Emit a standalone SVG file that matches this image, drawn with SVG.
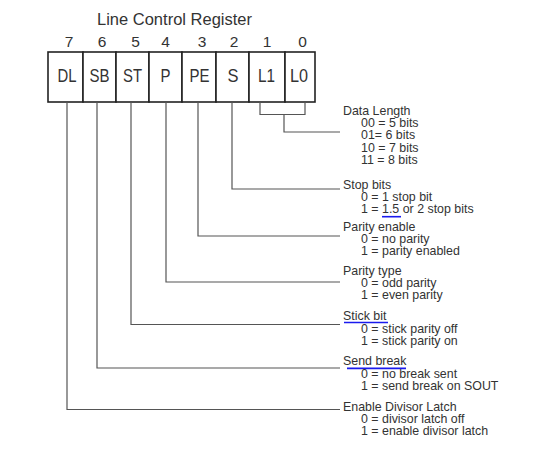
<svg xmlns="http://www.w3.org/2000/svg" width="548" height="465" viewBox="0 0 548 465">
<style>
.t{font-family:"Liberation Sans",Arial,sans-serif;fill:#333}
.title{font-size:16.5px}
.num{font-size:15.5px;text-anchor:middle}
.lbl{font-size:17.5px;text-anchor:middle}
.d{font-size:12.4px}
.box{fill:#fff;stroke:#222;stroke-width:1.6}
.c{fill:none;stroke:#555;stroke-width:1.2}
.u{stroke:#1a1aee;stroke-width:1.6}
</style>
<rect width="548" height="465" fill="#fff"/>
<g id="register">
<text class="t title" x="174.5" y="25" text-anchor="middle">Line Control Register</text>
<g id="bit7"><text class="t num" x="69" y="47">7</text><rect class="box" x="48" y="52" width="35" height="50"/><text class="t lbl" x="67" y="81.5" textLength="19" lengthAdjust="spacingAndGlyphs">DL</text></g>
<g id="bit6"><text class="t num" x="102" y="47">6</text><rect class="box" x="83" y="52" width="33" height="50"/><text class="t lbl" x="99.5" y="81.5" textLength="20" lengthAdjust="spacingAndGlyphs">SB</text></g>
<g id="bit5"><text class="t num" x="135.5" y="47">5</text><rect class="box" x="116" y="52" width="33" height="50"/><text class="t lbl" x="132.5" y="81.5" textLength="19" lengthAdjust="spacingAndGlyphs">ST</text></g>
<g id="bit4"><text class="t num" x="165.5" y="47">4</text><rect class="box" x="149" y="52" width="33" height="50"/><text class="t lbl" x="165.5" y="81.5" textLength="10" lengthAdjust="spacingAndGlyphs">P</text></g>
<g id="bit3"><text class="t num" x="202" y="47">3</text><rect class="box" x="182" y="52" width="34" height="50"/><text class="t lbl" x="199.5" y="81.5" textLength="20" lengthAdjust="spacingAndGlyphs">PE</text></g>
<g id="bit2"><text class="t num" x="234" y="47">2</text><rect class="box" x="216" y="52" width="33" height="50"/><text class="t lbl" x="233" y="81.5" textLength="11" lengthAdjust="spacingAndGlyphs">S</text></g>
<g id="bit1"><text class="t num" x="267" y="47">1</text><rect class="box" x="249" y="52" width="36" height="50"/><text class="t lbl" x="266.5" y="81.5" textLength="17" lengthAdjust="spacingAndGlyphs">L1</text></g>
<g id="bit0"><text class="t num" x="302.5" y="47">0</text><rect class="box" x="285" y="52" width="30" height="50"/><text class="t lbl" x="299" y="81.5" textLength="18" lengthAdjust="spacingAndGlyphs">L0</text></g>
</g>
<g id="connectors">
<path class="c" d="M260,102V114.5H305V102M284,114.5V132H340"/>
<path class="c" d="M232,102V189H340"/>
<path class="c" d="M198,102V236H340"/>
<path class="c" d="M166,102V282H340"/>
<path class="c" d="M131,102V324.5H340"/>
<path class="c" d="M97,102V368H340"/>
<path class="c" d="M67,102V409.5H340"/>
</g>
<g id="data-length"><text class="t d" x="343" y="115">Data Length</text><text class="t d" x="361" y="127">00 = 5 bits</text><text class="t d" x="361" y="139.3">01= 6 bits</text><text class="t d" x="361" y="151.6">10 = 7 bits</text><text class="t d" x="361" y="164">11 = 8 bits</text></g>
<g id="stop-bits"><text class="t d" x="343" y="189">Stop bits</text><text class="t d" x="361" y="201">0 = 1 stop bit</text><text class="t d" x="361" y="212.8">1 = 1.5 or 2 stop bits</text><line class="u" x1="382" y1="216.7" x2="401" y2="216.7"/></g>
<g id="parity-enable"><text class="t d" x="343" y="231">Parity enable</text><text class="t d" x="361" y="243">0 = no parity</text><text class="t d" x="361" y="255.3">1 = parity enabled</text></g>
<g id="parity-type"><text class="t d" x="343" y="274.5">Parity type</text><text class="t d" x="361" y="286.7">0 = odd parity</text><text class="t d" x="361" y="299">1 = even parity</text></g>
<g id="stick-bit"><text class="t d" x="343" y="320">Stick bit</text><line class="u" x1="344" y1="322.5" x2="388" y2="322.5"/><text class="t d" x="361" y="332.5">0 = stick parity off</text><text class="t d" x="361" y="345">1 = stick parity on</text></g>
<g id="send-break"><text class="t d" x="343" y="365">Send break</text><line class="u" x1="347" y1="368.4" x2="406" y2="368.4"/><text class="t d" x="361" y="377.5">0 = no break sent</text><text class="t d" x="361" y="390">1 = send break on SOUT</text></g>
<g id="divisor-latch"><text class="t d" x="343" y="410.7">Enable Divisor Latch</text><text class="t d" x="361" y="422.8">0 = divisor latch off</text><text class="t d" x="361" y="435">1 = enable divisor latch</text></g>
</svg>
